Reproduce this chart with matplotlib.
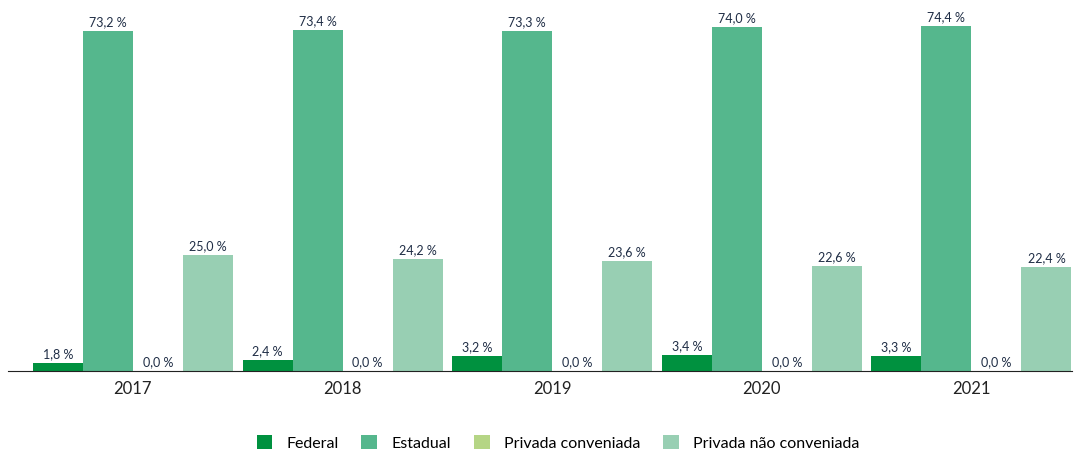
import numpy as np
import matplotlib.pyplot as plt

plt.rcParams['font.family'] = ['Lato', 'DejaVu Sans']

anos = ['2017', '2018', '2019', '2020', '2021']
federal = [1.8, 2.4, 3.2, 3.4, 3.3]
estadual = [73.2, 73.4, 73.3, 74.0, 74.4]
priv_conv = [0.0, 0.0, 0.0, 0.0, 0.0]
priv_nao = [25.0, 24.2, 23.6, 22.6, 22.4]

series = [
    ('Federal', federal, '#00913F'),
    ('Estadual', estadual, '#55B78D'),
    ('Privada conveniada', priv_conv, '#B5D585'),
    ('Privada não conveniada', priv_nao, '#98CFB3'),
]

fig = plt.figure(figsize=(10.84, 4.5), dpi=100)
ax = fig.add_axes([8 / 1084, 79 / 450, 1064 / 1084, 371 / 450])

x = np.arange(len(anos))
w = 50 / 209.6
for i, (nome, vals, cor) in enumerate(series):
    pos = x + (i - 1.5) * w
    bars = ax.bar(pos, vals, w, color=cor, label=nome)
    for b, v in zip(bars, vals):
        ax.annotate(f'{v:.1f} %'.replace('.', ','),
                    (b.get_x() + b.get_width() / 2, v),
                    xytext=(0, 2), textcoords='offset points',
                    ha='center', va='bottom', fontsize=9, color='#1F2D45')

ax.set_xlim(-0.596, 4.480)
ax.set_ylim(0, 79.9)
ax.set_xticks(x)
ax.set_xticklabels(anos, fontsize=12, color='#222222')
ax.tick_params(axis='x', length=0, pad=7)
ax.set_yticks([])
for s in ['top', 'right', 'left']:
    ax.spines[s].set_visible(False)
ax.spines['bottom'].set_color('#222222')

fig.legend(loc='center', bbox_to_anchor=(558 / 1084, 1 - 443 / 450), ncol=4,
           frameon=False, fontsize=11.5, handlelength=1.0, handleheight=1.0,
           columnspacing=1.4, handletextpad=0.9)

fig.savefig('out.png', dpi=100)
